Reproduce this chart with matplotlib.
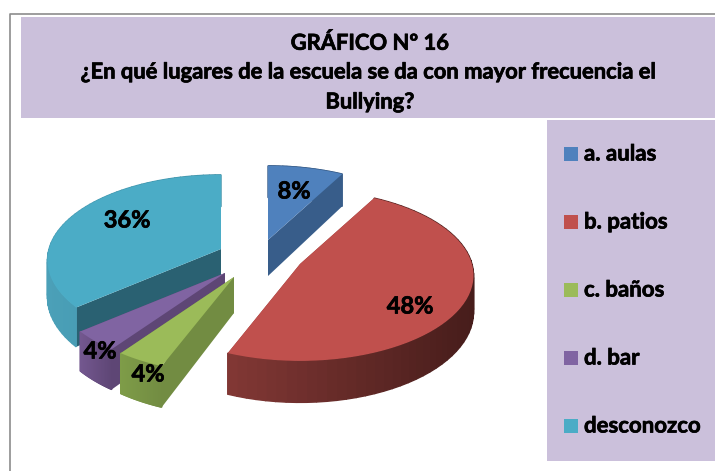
import numpy as np
import matplotlib
matplotlib.use('Agg')
import matplotlib.pyplot as plt
import matplotlib.patheffects as pe
from matplotlib.colors import to_rgb
from matplotlib.patches import Rectangle

plt.rcParams['font.family'] = ['Lato', 'DejaVu Sans']

# data
categories = ['a. aulas', 'b. patios', 'c. baños', 'd. bar', 'desconozco']
values = [8, 48, 4, 4, 36]
titleLines = ['GRÁFICO Nº 16', '¿En qué lugares de la escuela se da con mayor frecuencia el', 'Bullying?']

# styles, one entry per slice
topColours = ['#4F81BD', '#C0504D', '#9BBB59', '#8064A2', '#4BACC6']
faceColours = ['#385D8A', '#8C3A38', '#728C42', '#5E4675', '#2A6172']
rimLeft = ['#385D8A', '#833835', '#7E9C48', '#73578F', '#4BA0B8']
rimRight = ['#385D8A', '#471D1B', '#728C42', '#5E4675', '#3C8FA6']
apexes = [(268, 240), (300, 264), (234, 277), (225, 273), (221, 249)]
labelPos = [(294, 191), (410, 306), (148, 374), (100, 351), (127, 220)]
drawOrder = [4, 0, 1, 3, 2]

lilac = '#CBC0DB'
rx, ry, persp, depth = 172, 84, 0.133, 36
heavy = [pe.withStroke(linewidth=0.5, foreground='black')]


def rimPoints(theta, apex):
    # slice edge on the tilted disc, with the back drawn smaller than the front
    scale = 1 + persp * np.cos(theta)
    return apex[0] + rx * np.sin(theta) / scale, apex[1] - ry * np.cos(theta) / scale, depth / scale


fig = plt.figure(figsize=(7.15, 4.71), dpi=100)
ax = fig.add_axes([0, 0, 1, 1])
ax.set_xlim(0, 715)
ax.set_ylim(471, 0)
ax.axis('off')

# frame and panels
ax.plot([10, 10, 715], [471, 13.5, 13.5], color='#8C8C8C', lw=1.2, zorder=1)
ax.add_patch(Rectangle((20.5, 17), 694.5, 101, fc=lilac, ec='none', zorder=1))
ax.add_patch(Rectangle((547, 120), 168, 341, fc=lilac, ec='none', zorder=1))

edges = np.radians(np.concatenate([[0], np.cumsum(values)]) * 3.6)

z = 2
for i in drawOrder:
    apex = apexes[i]
    thetas = np.linspace(edges[i], edges[i + 1], 60)
    x, y, d = rimPoints(thetas, apex)
    # flat cut faces
    for k in [0, -1]:
        ax.fill([apex[0], x[k], x[k], apex[0]], [apex[1], y[k], y[k] + d[k], apex[1] + depth],
                color=faceColours[i], lw=0, zorder=z)
    # outer wall, shaded along the arc
    left, right = np.array(to_rgb(rimLeft[i])), np.array(to_rgb(rimRight[i]))
    for k in range(len(thetas) - 1):
        t = np.clip((x[k] - x.min()) / max(x.max() - x.min(), 1), 0, 1)
        ax.fill([x[k], x[k + 1], x[k + 1], x[k]], [y[k], y[k + 1], y[k + 1] + d[k + 1], y[k] + d[k]],
                color=left + (right - left) * t, lw=1.0, zorder=z)
    # top of the slice
    ax.fill(np.r_[apex[0], x], np.r_[apex[1], y], color=topColours[i], lw=0, zorder=z)
    ax.text(labelPos[i][0], labelPos[i][1], '%d%%' % values[i], ha='center', va='center',
            fontsize=17, fontweight='bold', color='black', zorder=20, path_effects=heavy)
    z += 1

# title
for line, yPos in zip(titleLines, [43, 72, 102]):
    ax.text(370, yPos, line, ha='center', va='center', fontsize=15.8, fontweight='bold', color='black',
            zorder=20, path_effects=heavy)

# legend
for i, name in enumerate(categories):
    yPos = 154 + 68 * i
    ax.add_patch(Rectangle((564, yPos - 7), 14, 14, fc=topColours[i], ec='none', zorder=5))
    ax.text(584, yPos, name, ha='left', va='center', fontsize=16, fontweight='bold', color='black',
            zorder=20, path_effects=heavy)

fig.savefig('out.png', dpi=100)
